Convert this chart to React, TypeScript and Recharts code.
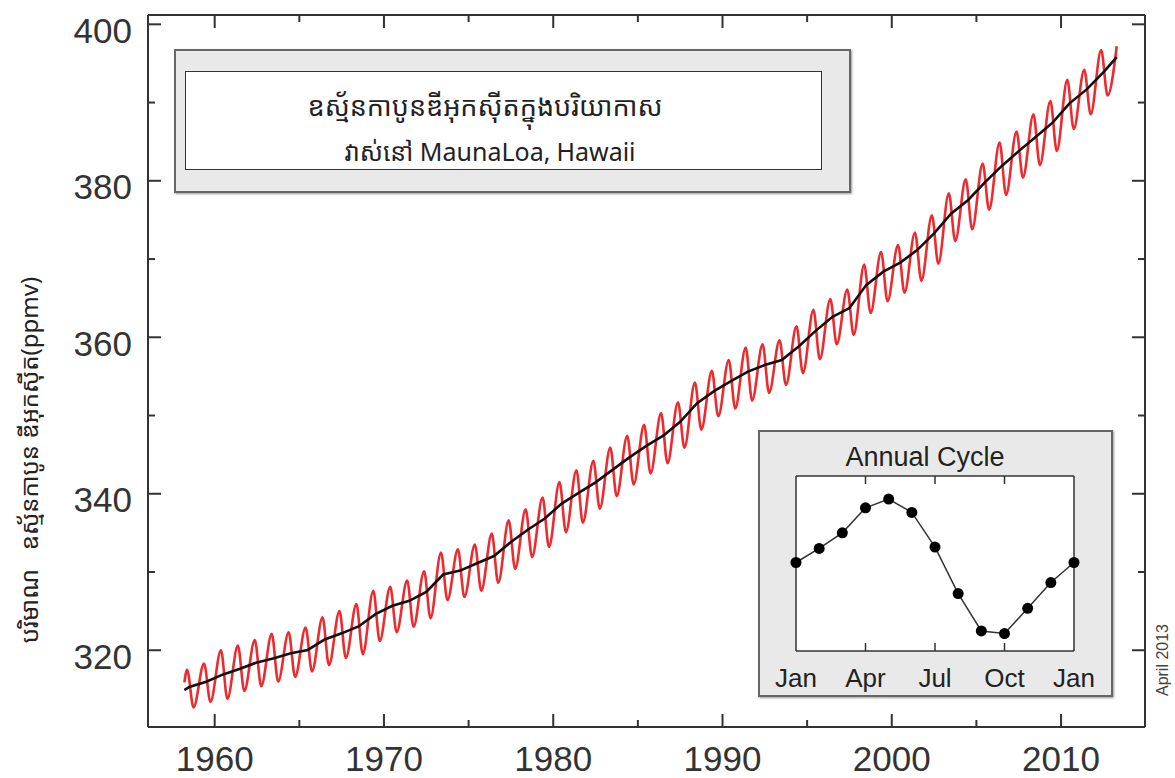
import { LineChart, Line, XAxis, YAxis } from 'recharts'

// Mauna Loa CO2 (ppmv)
const years = [
  1958, 1959, 1960, 1961, 1962, 1963, 1964, 1965, 1966, 1967, 1968, 1969,
  1970, 1971, 1972, 1973, 1974, 1975, 1976, 1977, 1978, 1979, 1980, 1981,
  1982, 1983, 1984, 1985, 1986, 1987, 1988, 1989, 1990, 1991, 1992, 1993,
  1994, 1995, 1996, 1997, 1998, 1999, 2000, 2001, 2002, 2003, 2004, 2005,
  2006, 2007, 2008, 2009, 2010, 2011, 2012,
]
// seasonal maximum (May) of each year
const mayPeaks = [
  317.5, 318.3, 320.0, 320.6, 321.3, 322.1, 322.3, 322.9, 324.2, 325.0, 325.9, 327.6,
  328.1, 328.9, 330.1, 332.5, 332.9, 333.5, 334.9, 336.6, 338.0, 339.5, 341.5, 343.0,
  344.2, 345.9, 347.4, 348.8, 350.3, 351.7, 354.2, 355.7, 357.1, 358.7, 359.1, 359.6,
  361.4, 363.5, 364.9, 366.1, 369.3, 370.9, 371.8, 373.4, 375.6, 378.4, 380.2, 382.2,
  384.9, 386.3, 388.5, 390.2, 392.9, 394.2, 396.7,
]
// seasonal minimum (Sep/Oct) of each year
const autumnLows = [
  312.7, 313.4, 313.8, 314.8, 315.4, 316.0, 316.6, 317.3, 318.1, 319.0, 319.5, 321.2,
  322.3, 323.0, 324.1, 326.4, 326.8, 327.6, 328.6, 330.4, 331.9, 333.2, 335.1, 336.3,
  338.1, 339.7, 341.2, 342.6, 343.9, 345.9, 348.2, 349.9, 350.9, 351.9, 352.9, 353.9,
  355.4, 357.2, 359.1, 360.3, 363.1, 364.6, 365.7, 367.2, 369.4, 372.3, 373.8, 376.3,
  378.2, 380.4, 382.0, 383.8, 386.6, 388.5, 390.9,
]
const firstReading = { x: 1958.21, v: 315.9 }
const lastReading = { x: 2013.29, v: 397.2 }
const PEAK_AT = 0.37
const LOW_AT = 0.75

// seasonally corrected trend
const trendYears = [
  1958.21, 1958.5, 1959.5, 1960.5, 1961.5, 1962.5, 1963.5, 1964.5, 1965.5, 1966.5,
  1967.5, 1968.5, 1969.5, 1970.5, 1971.5, 1972.5, 1973.5, 1974.5, 1975.5, 1976.5,
  1977.5, 1978.5, 1979.5, 1980.5, 1981.5, 1982.5, 1983.5, 1984.5, 1985.5, 1986.5,
  1987.5, 1988.5, 1989.5, 1990.5, 1991.5, 1992.5, 1993.5, 1994.5, 1995.5, 1996.5,
  1997.5, 1998.5, 1999.5, 2000.5, 2001.5, 2002.5, 2003.5, 2004.5, 2005.5, 2006.5,
  2007.5, 2008.5, 2009.5, 2010.5, 2011.5, 2012.5, 2013.29,
]
const trendValues = [
  314.9, 315.3, 315.97, 316.91, 317.64, 318.45, 318.99, 319.62, 320.04, 321.38,
  322.16, 323.04, 324.62, 325.68, 326.32, 327.45, 329.68, 330.18, 331.11, 332.04,
  333.83, 335.4, 336.84, 338.75, 340.11, 341.45, 343.05, 344.65, 346.12, 347.42,
  349.19, 351.57, 353.12, 354.39, 355.61, 356.45, 357.1, 358.83, 360.82, 362.61,
  363.73, 366.7, 368.38, 369.55, 371.14, 373.28, 375.8, 377.52, 379.8, 381.9,
  383.79, 385.6, 387.43, 389.9, 391.65, 393.85, 395.8,
]

// annual cycle (ppmv anomaly), Jan..Dec, Jan
const cycleValues = [0, 0.7, 1.48, 2.73, 3.17, 2.5, 0.77, -1.55, -3.42, -3.55, -2.29, -1.0, 0]
const cycleTicks = [0, 3, 6, 9, 12]
const cycleTickLabels = ['Jan', 'Apr', 'Jul', 'Oct', 'Jan']

const yTicks = [320, 330, 340, 350, 360, 370, 380, 390, 400]
const xTicks = [1960, 1965, 1970, 1975, 1980, 1985, 1990, 1995, 2000, 2005, 2010]

const seasonalData = [
  firstReading,
  ...years.flatMap((y, i) => [
    { x: y + PEAK_AT, v: mayPeaks[i] },
    { x: y + LOW_AT, v: autumnLows[i] },
  ]),
  lastReading,
]
const trendData = trendYears.map((x, i) => ({ x, v: trendValues[i] }))
const cycleData = cycleValues.map((v, i) => ({ m: i, v }))

const FONT = '"Liberation Sans", Arial, Helvetica, sans-serif'
const KHMER = '"Noto Sans Khmer", "Khmer OS", "Khmer OS System", "Liberation Sans", sans-serif'
const FRAME = '#333'
const GAP = 16

const LeftTick = (props: any) => {
  const { x, y, payload } = props
  const major = payload.value % 20 === 0
  const ax = x + GAP
  return (
    <g>
      <line x1={ax} x2={ax + (major ? 13 : 7)} y1={y} y2={y} stroke={FRAME} strokeWidth={2} />
      {major && (
        <text x={x} y={y + 6} textAnchor="end" dominantBaseline="central" fontSize={35} fontFamily={FONT} fill="#333">
          {payload.value}
        </text>
      )}
    </g>
  )
}

const RightTick = (props: any) => {
  const { x, y, payload } = props
  const len = payload.value % 20 === 0 ? 13 : 7
  return <line x1={x} x2={x - len} y1={y} y2={y} stroke={FRAME} strokeWidth={2} />
}

const BottomTick = (props: any) => {
  const { x, y, payload } = props
  const major = payload.value % 10 === 0
  return (
    <g>
      <line x1={x} x2={x} y1={y} y2={y - (major ? 13 : 7)} stroke={FRAME} strokeWidth={2} />
      {major && (
        <text x={x} y={y + 44} textAnchor="middle" fontSize={35} fontFamily={FONT} fill="#333">
          {payload.value}
        </text>
      )}
    </g>
  )
}

const TopTick = (props: any) => {
  const { x, y, payload } = props
  const len = payload.value % 10 === 0 ? 13 : 7
  return <line x1={x} x2={x} y1={y} y2={y + len} stroke={FRAME} strokeWidth={2} />
}

const CycleBottomTick = (props: any) => {
  const { x, y, payload, index } = props
  const inner = payload.value > 0 && payload.value < 12
  return (
    <g>
      {inner && <line x1={x} x2={x} y1={y} y2={y - 8} stroke={FRAME} strokeWidth={1.5} />}
      <text x={x} y={y + 36} textAnchor="middle" fontSize={26} fontFamily={FONT} fill="#222">
        {cycleTickLabels[index]}
      </text>
    </g>
  )
}

const CycleTopTick = (props: any) => {
  const { x, y, payload } = props
  if (payload.value <= 0 || payload.value >= 12) return <g />
  return <line x1={x} x2={x} y1={y} y2={y + 8} stroke={FRAME} strokeWidth={1.5} />
}

const frameLine = { stroke: FRAME, strokeWidth: 2 }
const cycleFrame = { stroke: FRAME, strokeWidth: 1.5 }

export default function App() {
  return (
    <div style={{ position: 'absolute', left: 0, top: 0, width: 1175, height: 778, background: '#fff', fontFamily: FONT }}>
      <div style={{ position: 'absolute', left: 0, top: 0 }}>
        <LineChart width={1175} height={778} margin={{ top: 14, right: 29, bottom: 50, left: 147 }}>
          <XAxis
            xAxisId="b"
            type="number"
            dataKey="x"
            domain={[1956.06, 2014.96]}
            allowDataOverflow
            ticks={xTicks}
            interval={0}
            height={1}
            tickSize={0}
            tickMargin={0}
            axisLine={frameLine}
            tickLine={false}
            tick={BottomTick}
          />
          <XAxis
            xAxisId="t"
            orientation="top"
            type="number"
            dataKey="x"
            domain={[1956.06, 2014.96]}
            allowDataOverflow
            ticks={xTicks}
            interval={0}
            height={1}
            tickSize={0}
            tickMargin={0}
            axisLine={frameLine}
            tickLine={false}
            tick={TopTick}
          />
          <YAxis
            yAxisId="l"
            type="number"
            domain={[310.19, 401.19]}
            allowDataOverflow
            ticks={yTicks}
            interval={0}
            width={1}
            tickSize={0}
            tickMargin={GAP}
            axisLine={frameLine}
            tickLine={false}
            tick={LeftTick}
          />
          <YAxis
            yAxisId="r"
            orientation="right"
            type="number"
            domain={[310.19, 401.19]}
            allowDataOverflow
            ticks={yTicks}
            interval={0}
            width={1}
            tickSize={0}
            tickMargin={0}
            axisLine={frameLine}
            tickLine={false}
            tick={RightTick}
          />
          <Line
            xAxisId="b"
            yAxisId="l"
            data={seasonalData}
            dataKey="v"
            type="monotone"
            stroke="#ee2a2e"
            strokeWidth={2.6}
            dot={false}
            isAnimationActive={false}
          />
          <Line
            xAxisId="b"
            yAxisId="l"
            data={trendData}
            dataKey="v"
            type="linear"
            stroke="#111"
            strokeWidth={2.6}
            dot={false}
            isAnimationActive={false}
          />
        </LineChart>
      </div>

      {/* title box */}
      <div
        style={{
          position: 'absolute', left: 174, top: 49, width: 677, height: 144, boxSizing: 'border-box',
          background: '#e9e9e9', border: '2px solid #666', boxShadow: '1px 1px 2px #999',
        }}
      />
      <div
        style={{
          position: 'absolute', left: 185, top: 71, width: 637, height: 99, boxSizing: 'border-box',
          background: '#fff', border: '1.5px solid #333',
        }}
      />
      <div style={{ position: 'absolute', left: 485, top: 105, transform: 'translate(-50%, -50%)', whiteSpace: 'nowrap', fontSize: 27, fontFamily: KHMER, color: '#222' }}>
        ឧស្ម័នកាបូនឌីអុកស៊ីតក្នុងបរិយាកាស
      </div>
      <div style={{ position: 'absolute', left: 490, top: 151, transform: 'translate(-50%, -50%)', whiteSpace: 'nowrap', fontSize: 25, fontFamily: KHMER, color: '#222' }}>
        វាស់នៅ MaunaLoa, Hawaii
      </div>

      {/* y axis label */}
      <div style={{ position: 'absolute', left: 28, top: 460, transform: 'translate(-50%, -50%) rotate(-90deg)', whiteSpace: 'pre', fontSize: 24, fontFamily: KHMER, color: '#222' }}>
        {'បរិមាណ   ឧស្ម័នកាបូន ឌីអុកស៊ីត(ppmv)'}
      </div>

      {/* date stamp */}
      <div style={{ position: 'absolute', left: 1163, top: 660, transform: 'translate(-50%, -50%) rotate(-90deg)', whiteSpace: 'nowrap', fontSize: 16, fontFamily: FONT, color: '#444' }}>
        April 2013
      </div>

      {/* annual cycle inset */}
      <div
        style={{
          position: 'absolute', left: 758, top: 430, width: 355, height: 267, boxSizing: 'border-box',
          background: '#e9e9e9', border: '2px solid #666', boxShadow: '1px 1px 2px #999',
        }}
      />
      <div style={{ position: 'absolute', left: 796, top: 476, width: 278, height: 175, background: '#fff' }} />
      <div style={{ position: 'absolute', left: 925, top: 457, transform: 'translate(-50%, -50%)', whiteSpace: 'nowrap', fontSize: 27, fontFamily: FONT, color: '#222' }}>
        Annual Cycle
      </div>
      <div style={{ position: 'absolute', left: 758, top: 430 }}>
        <LineChart width={355} height={267} data={cycleData} margin={{ top: 45, right: 38, bottom: 45, left: 37 }}>
          <XAxis
            xAxisId="b"
            type="number"
            dataKey="m"
            domain={[0, 12]}
            ticks={cycleTicks}
            interval={0}
            height={1}
            tickSize={0}
            tickMargin={0}
            axisLine={cycleFrame}
            tickLine={false}
            tick={CycleBottomTick}
          />
          <XAxis
            xAxisId="t"
            orientation="top"
            type="number"
            dataKey="m"
            domain={[0, 12]}
            ticks={cycleTicks}
            interval={0}
            height={1}
            tickSize={0}
            tickMargin={0}
            axisLine={cycleFrame}
            tickLine={false}
            tick={CycleTopTick}
          />
          <YAxis yAxisId="l" type="number" domain={[-4.42, 4.32]} width={1} tick={false} tickLine={false} axisLine={cycleFrame} />
          <YAxis yAxisId="r" orientation="right" type="number" domain={[-4.42, 4.32]} width={1} tick={false} tickLine={false} axisLine={cycleFrame} />
          <Line
            xAxisId="b"
            yAxisId="l"
            dataKey="v"
            type="linear"
            stroke="#333"
            strokeWidth={1.5}
            dot={{ r: 5.5, fill: '#000', stroke: '#000', strokeWidth: 0 }}
            isAnimationActive={false}
          />
        </LineChart>
      </div>
    </div>
  )
}
